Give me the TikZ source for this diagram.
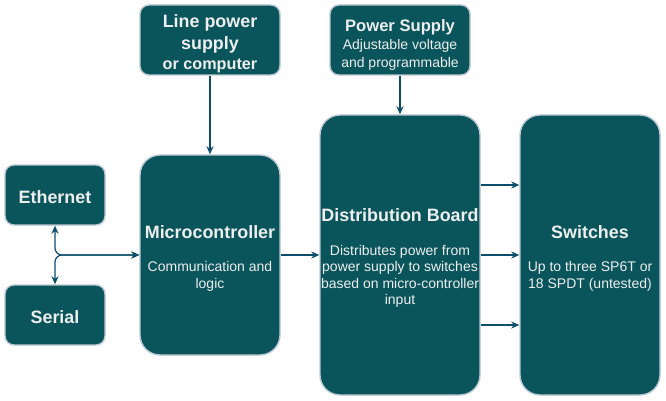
\documentclass[tikz,border=0pt]{standalone}
\usepackage{fontspec}
\setmainfont{Liberation Sans}
\usetikzlibrary{arrows.meta,calc}
\definecolor{boxfill}{HTML}{09555B}
\definecolor{boxline}{HTML}{BAC8D3}
\definecolor{boxtext}{HTML}{EEEEEE}
\definecolor{arrowcol}{HTML}{0B4D6A}
\newcommand{\ttl}[1]{{\fontsize{17.9}{20}\selectfont\bfseries #1}}
\begin{document}
\begin{tikzpicture}[x=1pt,y=-1pt,
  box/.style={draw=boxline, line width=1.4pt, fill=boxfill, rounded corners=9pt},
  bigbox/.style={box, rounded corners=20pt},
  txt/.style={text=boxtext, align=center, inner sep=0pt,
    font=\fontsize{14}{16.3}\selectfont},
  conn/.style={draw=arrowcol, line width=1.2pt,
    -{Stealth[length=8pt,width=7pt,inset=2.5pt]}},
  conn2/.style={draw=arrowcol, line width=1.2pt,
    {Stealth[length=8pt,width=7pt,inset=2.5pt]}-{Stealth[length=8pt,width=7pt,inset=2.5pt]}}
]
\useasboundingbox (0,0) rectangle (666,401);

% boxes
\node[box, minimum width=100pt, minimum height=60pt] (eth) at (55,195) {};
\node[box, minimum width=100pt, minimum height=60pt] (ser) at (55,315) {};
\node[box, minimum width=140pt, minimum height=70pt] (line) at (210,40) {};
\node[box, minimum width=140pt, minimum height=70pt] (ps) at (400,40) {};
\node[bigbox, minimum width=140pt, minimum height=200pt] (micro) at (210,255) {};
\node[bigbox, minimum width=160pt, minimum height=280pt] (dist) at (400,255) {};
\node[bigbox, minimum width=140pt, minimum height=280pt] (sw) at (590,255) {};

% texts
\node[txt] (ethT) at ([yshift=-2pt]eth.center) {\ttl{Ethernet}};
\node[txt] (serT) at ([yshift=-2pt]ser.center) {\ttl{Serial}};
\node[txt, font=\fontsize{17.9}{22}\selectfont\bfseries] (lineT) at ([yshift=-4pt]line.center)
  {Line power\\supply\\[-2pt]{\fontsize{16.2}{18}\selectfont or computer}};
\node[txt, font=\fontsize{14}{18}\selectfont] (psT) at ([yshift=-4.5pt]ps.center)
  {{\fontsize{16.6}{18}\selectfont\bfseries Power Supply}\\Adjustable voltage\\and programmable};
\node[txt] (microT) at ([yshift=-3.5pt]micro.center)
  {\ttl{Microcontroller}\\[16.5pt]Communication and\\logic};
\node[txt] (distT) at ([yshift=-3pt]dist.center)
  {\ttl{Distribution Board}\\[17.5pt]Distributes power from\\power supply to switches\\based on micro-controller\\input};
\node[txt] (swT) at ([yshift=-3.5pt]sw.center)
  {\ttl{Switches}\\[16.5pt]Up to three SP6T or\\18 SPDT (untested)};

% connectors
\draw[conn] (line.south) -- (micro.north);
\draw[conn] (ps.south) -- (dist.north);
\draw[conn] (micro.east) -- (dist.west);
\draw[conn] ([yshift=70pt]dist.east) -- ([yshift=70pt]dist.east -| sw.west);
\draw[conn] (dist.east) -- (sw.west);
\draw[conn] ([yshift=-70pt]dist.east) -- ([yshift=-70pt]dist.east -| sw.west);
\draw[conn2, rounded corners=7pt] (eth.south) |- (micro.west);
\draw[conn2, rounded corners=7pt] (ser.north) |- (micro.west);
\end{tikzpicture}
\end{document}
